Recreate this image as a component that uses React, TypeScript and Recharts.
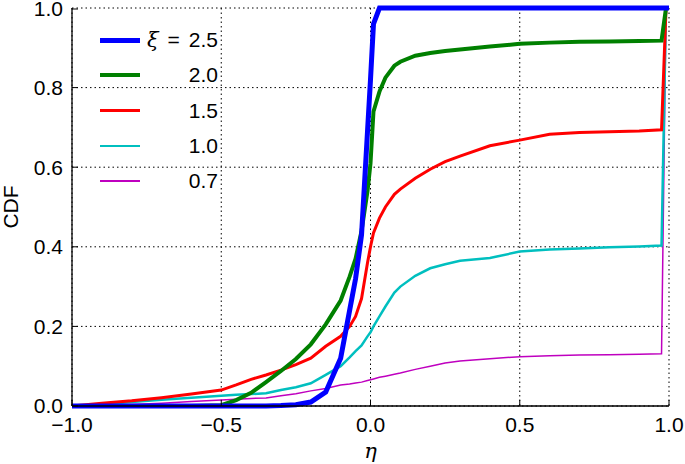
import React from "react";
import { LineChart, Line, XAxis, YAxis, CartesianGrid } from "recharts";

// eta grid shared by all curves
const eta = [
  -1, -0.9, -0.8, -0.7, -0.6, -0.5, -0.45, -0.4, -0.35, -0.3, -0.25, -0.2, -0.15, -0.1, -0.07,
  -0.05, -0.03, -0.01, 0, 0.01, 0.03, 0.05, 0.08, 0.1, 0.15, 0.2, 0.25, 0.3, 0.4, 0.5, 0.6, 0.7,
  0.8, 0.9, 0.975, 0.99, 1.0,
];

const xi25 = [
  0, 0, 0, 0, 0, 0, 0, 0, 0, 0.001, 0.003, 0.01, 0.035, 0.12, 0.24,
  0.32, 0.43, 0.69, 0.82, 0.96, 1, 1, 1, 1, 1, 1, 1, 1, 1, 1, 1, 1,
  1, 1, 1, 1, 1,
];
const xi20 = [
  0, 0, 0, 0, 0, 0.002, 0.015, 0.033, 0.06, 0.088, 0.118, 0.155, 0.205, 0.265, 0.325,
  0.37, 0.44, 0.54, 0.61, 0.74, 0.79, 0.825, 0.855, 0.865, 0.88, 0.887, 0.892, 0.896, 0.903, 0.91, 0.913, 0.915,
  0.916, 0.917, 0.918, 1, 1,
];
const xi15 = [
  0, 0.007, 0.013, 0.021, 0.03, 0.04, 0.053, 0.067, 0.078, 0.09, 0.104, 0.12, 0.15, 0.175, 0.2,
  0.225, 0.27, 0.36, 0.4, 0.435, 0.472, 0.5, 0.532, 0.545, 0.572, 0.595, 0.614, 0.628, 0.654, 0.668, 0.683, 0.687,
  0.689, 0.691, 0.694, 1, 1,
];
const xi10 = [
  0, 0.004, 0.01, 0.016, 0.021, 0.026, 0.028, 0.03, 0.032, 0.04, 0.047, 0.057, 0.078, 0.1, 0.122,
  0.138, 0.152, 0.175, 0.185, 0.2, 0.225, 0.25, 0.285, 0.3, 0.327, 0.346, 0.356, 0.365, 0.372, 0.388, 0.393, 0.396,
  0.399, 0.401, 0.403, 1, 1,
];
const xi07 = [
  0, 0.002, 0.004, 0.007, 0.011, 0.015, 0.017, 0.019, 0.02, 0.026, 0.031, 0.038, 0.044, 0.053, 0.055,
  0.058, 0.06, 0.064, 0.066, 0.068, 0.072, 0.075, 0.08, 0.083, 0.092, 0.1, 0.108, 0.113, 0.119, 0.124, 0.126, 0.128,
  0.129, 0.13, 0.131, 1, 1,
];

const xTicks = [-1, -0.5, 0, 0.5, 1];
const yTicks = [0, 0.2, 0.4, 0.6, 0.8, 1];

const series = [
  { key: "a", label: "2.5", values: xi25, color: "#0000ff", width: 5 },
  { key: "b", label: "2.0", values: xi20, color: "#008000", width: 4 },
  { key: "c", label: "1.5", values: xi15, color: "#ff0000", width: 3 },
  { key: "d", label: "1.0", values: xi10, color: "#00bfbf", width: 2.5 },
  { key: "e", label: "0.7", values: xi07, color: "#bf00bf", width: 1.5 },
];

const data = eta.map((x, i) => {
  const row: Record<string, number> = { eta: x };
  series.forEach((s) => (row[s.key] = s.values[i]));
  return row;
});

const FONT = "'Liberation Sans', Arial, sans-serif";
const FS = 21;
const fmt = (v: number) => (v < 0 ? "\u2212" + Math.abs(v).toFixed(1) : v.toFixed(1));

const LeftTick = ({ x, y, payload }: any) => (
  <g>
    <line x1={x + 9} x2={x + 15} y1={y} y2={y} stroke="#000" />
    <text x={x} y={y} dy="0.35em" textAnchor="end" fontSize={FS} fontFamily={FONT} fill="#000">
      {fmt(payload.value)}
    </text>
  </g>
);
const BottomTick = ({ x, y, payload }: any) => (
  <g>
    <line x1={x} x2={x} y1={y - 12} y2={y - 18} stroke="#000" />
    <text x={x} y={y} dy="0.68em" textAnchor="middle" fontSize={FS} fontFamily={FONT} fill="#000">
      {fmt(payload.value)}
    </text>
  </g>
);
const TopTick = ({ x, y }: any) => <line x1={x} x2={x} y1={y} y2={y + 6} stroke="#000" />;
const RightTick = ({ x, y }: any) => <line x1={x} x2={x - 6} y1={y} y2={y} stroke="#000" />;

const YLabel = ({ viewBox }: any) => {
  const cx = viewBox.x + 10;
  const cy = viewBox.y + viewBox.height / 2;
  return (
    <text
      x={cx}
      y={cy}
      transform={`rotate(-90 ${cx} ${cy})`}
      textAnchor="middle"
      dominantBaseline="central"
      fontSize={FS}
      fontFamily={FONT}
      fill="#000"
    >
      CDF
    </text>
  );
};

export default function App() {
  return (
    <div style={{ position: "absolute", left: 0, top: 0, width: 685, height: 464, background: "#fff" }}>
      <LineChart width={685} height={464} data={data} margin={{ top: 8, right: 16, left: 0, bottom: 0 }}>
        <CartesianGrid stroke="#000" strokeDasharray="1.5 3" strokeWidth={1} />
        <XAxis
          dataKey="eta"
          type="number"
          domain={[-1, 1]}
          ticks={xTicks}
          height={58}
          tickSize={0}
          tickMargin={12}
          tick={<BottomTick />}
          axisLine={{ stroke: "#000", strokeWidth: 1.3 }}
          label={{ value: "\u03b7", position: "insideBottom", offset: 6, fontSize: 21, fontStyle: "italic", fontFamily: "'DejaVu Serif', serif", fill: "#000" }}
        />
        <XAxis
          xAxisId="top"
          orientation="top"
          dataKey="eta"
          type="number"
          domain={[-1, 1]}
          ticks={xTicks}
          height={0}
          tickSize={0}
          tickMargin={0}
          tick={<TopTick />}
          axisLine={{ stroke: "#000", strokeWidth: 1.3 }}
        />
        <YAxis
          type="number"
          domain={[0, 1]}
          ticks={yTicks}
          width={72}
          tickSize={0}
          tickMargin={9}
          tick={<LeftTick />}
          axisLine={{ stroke: "#000", strokeWidth: 1.3 }}
          label={<YLabel />}
        />
        <YAxis
          yAxisId="right"
          orientation="right"
          type="number"
          domain={[0, 1]}
          ticks={yTicks}
          width={0}
          tickSize={0}
          tickMargin={0}
          tick={<RightTick />}
          axisLine={{ stroke: "#000", strokeWidth: 1.3 }}
        />
        {series
          .slice()
          .reverse()
          .map((s) => (
            <Line
              key={s.key}
              dataKey={s.key}
              type="linear"
              stroke={s.color}
              strokeWidth={s.width}
              dot={false}
              activeDot={false}
              isAnimationActive={false}
            />
          ))}
      </LineChart>
      <div style={{ position: "absolute", left: 100, top: 22, fontFamily: FONT, fontSize: FS }}>
        {series.map((s, i) => (
          <div key={s.key} style={{ position: "relative", height: 35.3, width: 120 }}>
            <div
              style={{
                position: "absolute",
                left: 0,
                width: 40,
                top: 18 - s.width / 2,
                height: s.width,
                background: s.color,
              }}
            />
            <div style={{ position: "absolute", right: 2, top: 5, lineHeight: "26px", whiteSpace: "nowrap" }}>
              {i === 0 ? (
                <>
                  <span style={{ fontStyle: "italic", fontFamily: "'DejaVu Serif', serif", marginRight: 9 }}>
                    {"\u03be"}
                  </span>
                  <span style={{ marginRight: 9 }}>=</span>
                  {s.label}
                </>
              ) : (
                s.label
              )}
            </div>
          </div>
        ))}
      </div>
    </div>
  );
}
